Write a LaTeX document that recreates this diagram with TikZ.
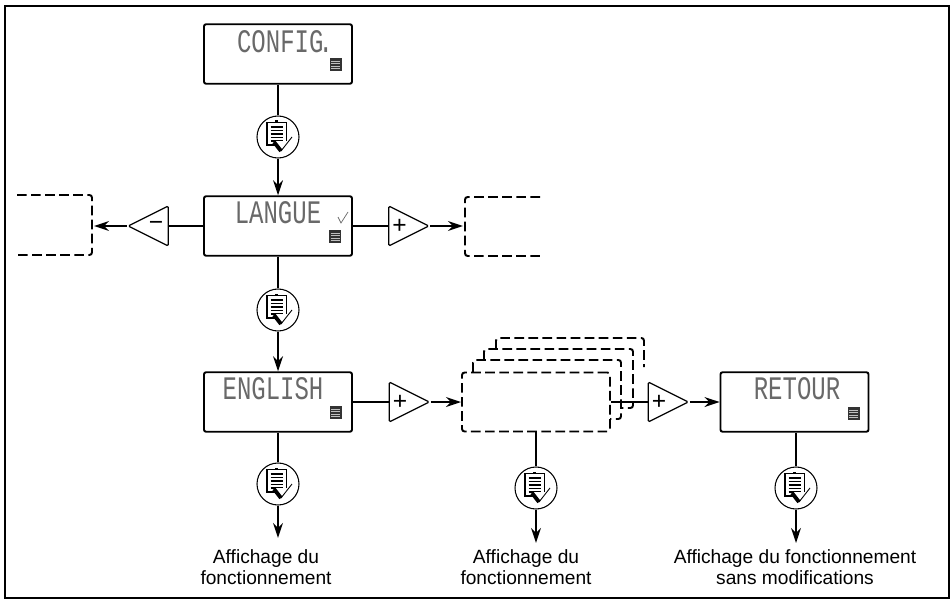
\documentclass[tikz,border=0pt]{standalone}
\usepackage{fontspec}
\setmainfont{Liberation Sans}
\newfontfamily\lcdfont[FakeStretch=0.73]{Liberation Mono}
\usetikzlibrary{arrows.meta,shapes.geometric}
\definecolor{LcdGray}{RGB}{105,105,105}
\tikzset{
	lcdbox/.style={draw=black,line width=1.1pt,rounded corners=1.2pt,inner sep=0pt,
		minimum width=29.6mm,minimum height=11.9mm},
	dashbox/.style={draw=black,line width=1.1pt,rounded corners=1.5pt,dash pattern=on 5.5pt off 2.5pt},
	lcd/.style={font=\lcdfont\fontsize{18.7}{20}\selectfont,text=LcdGray,inner sep=0pt},
	keyround/.style={circle,draw=black,line width=0.6pt,fill=white,inner sep=0pt,minimum size=8.4mm},
	keytri/.style={isosceles triangle,isosceles triangle stretches,draw=black,line width=0.7pt,
		rounded corners=0.8pt,inner sep=0pt,minimum width=8mm,minimum height=8mm,font=\fontsize{14}{14}\selectfont},
	wire/.style={draw=black,line width=1.15pt},
	arrow/.style={wire,-{Stealth[length=8.5pt,width=5.6pt]}},
	caption/.style={align=center,font=\fontsize{10.9}{11.9}\selectfont,inner sep=0pt},
	pics/menumark/.style={code={
		\fill[black!80] (-6,-6.5) rectangle (6,6.5);
		\foreach \y in {-3.5,-1,1.5,4}
			\draw[white!75!black,line width=0.3pt] (-4.5,\y)--(4.5,\y);
	}},
	pics/menukey/.style={code={
		\draw[line width=0.5pt,fill=white] (-11,-15) rectangle (8,8);
		\draw[line width=1pt] (-11,-15)--(-11,8)--(8,8);
		\fill (-3,-16.5) rectangle (0,-14);
		\foreach \y in {-10,-6.5,-3,0.5,4}
			\draw[line width=0.7pt] (-7.5,\y)--(4.5,\y);
		\fill[white] (-3,4) rectangle (9,15);
		\draw[line width=2.2pt] (-4,5)--(3,14);
		\draw[line width=0.5pt] (3,14)--(14,0);
	}},
}
\begin{document}
\begin{tikzpicture}[x=0.2mm,y=-0.2mm]
	\useasboundingbox (0,0) rectangle (951,600);
	\draw[black,line width=1.4pt] (5,6) rectangle (949,598);

	\node[lcdbox] (config) at (278,54) {};
	\node[lcdbox] (langue) at (278,226) {};
	\node[lcdbox] (english) at (278,402) {};
	\node[lcdbox] (retour) at (794.5,402) {};
	\node[lcd] (configtext) at (285,42) {CONFIG\kern-0.15em.};
	\node[lcd] (languetext) at (278,213) {LANGUE};
	\node[lcd] (englishtext) at (273,389) {ENGLISH};
	\node[lcd] (retourtext) at (797,389) {RETOUR};
	\pic at (335.5,64.5) {menumark};
	\pic at (335,236.5) {menumark};
	\pic at (335.5,412.5) {menumark};
	\pic at (853.5,413.5) {menumark};
	\draw[LcdGray,line width=0.4pt] (338,217)--(341,223)--(348,212);

	\node[keyround] (keya) at (278,137) {};
	\node[keyround] (keyb) at (278,310) {};
	\node[keyround] (keyc) at (278,484) {};
	\node[keyround] (keyd) at (536,488) {};
	\node[keyround] (keye) at (796,488) {};
	\foreach \k in {keya,keyb,keyc,keyd,keye}
		\pic at (\k) {menukey};

	\node[keytri,shape border rotate=180] (minus) at (156,226) {−};
	\node[keytri] (plusa) at (399.5,226) {+};
	\node[keytri] (plusb) at (400,402) {+};
	\node[keytri] (plusc) at (659,402) {+};

	\draw[dashbox] (17,195)--(92,195)--(92,255)--(17,255);
	\draw[dashbox] (540,197)--(465,197)--(465,256)--(540,256);
	\coordinate (lefttarget) at (94,226);
	\coordinate (righttarget) at (463,226);

	\draw[dashbox] (496,349)--(496,338)--(644,338)--(644,367);
	\draw[dashbox] (484,360)--(484,349)--(633,349)--(633,408)--(621,408);
	\draw[dashbox] (473,372)--(473,360)--(621,360)--(621,419)--(610,419);
	\node[dashbox,minimum width=29.6mm,minimum height=11.8mm,inner sep=0pt] (stack) at (536,402) {};

	\node[caption] (capa) at (266,567) {Affichage du\\fonctionnement};
	\node[caption] (capb) at (526,567) {Affichage du\\fonctionnement};
	\node[caption] (capc) at (795,567) {Affichage du fonctionnement\\sans modifications};
	\coordinate (enda) at (278,538);
	\coordinate (endb) at (536,543);
	\coordinate (endc) at (796,543);

	\draw[wire] (config)--(keya);
	\draw[arrow] (keya)--(langue);
	\draw[wire] (langue)--(keyb);
	\draw[arrow] (keyb)--(english);
	\draw[wire] (english)--(keyc);
	\draw[arrow] (keyc)--(enda);
	\draw[wire] (stack)--(keyd);
	\draw[arrow] (keyd)--(endb);
	\draw[wire] (retour.south -| keye)--(keye);
	\draw[arrow] (keye)--(endc);
	\draw[wire] (langue.west)--(minus.lower side);
	\draw[arrow] (minus.apex)--(lefttarget);
	\draw[wire] (langue.east)--(plusa.lower side);
	\draw[arrow] (plusa.apex)--(righttarget);
	\draw[wire] (english.east)--(plusb.lower side);
	\draw[arrow] (plusb.apex)--(stack.west);
	\draw[wire] (stack.east)--(plusc.lower side);
	\draw[arrow] (plusc.apex)--(retour.west);
\end{tikzpicture}
\end{document}
